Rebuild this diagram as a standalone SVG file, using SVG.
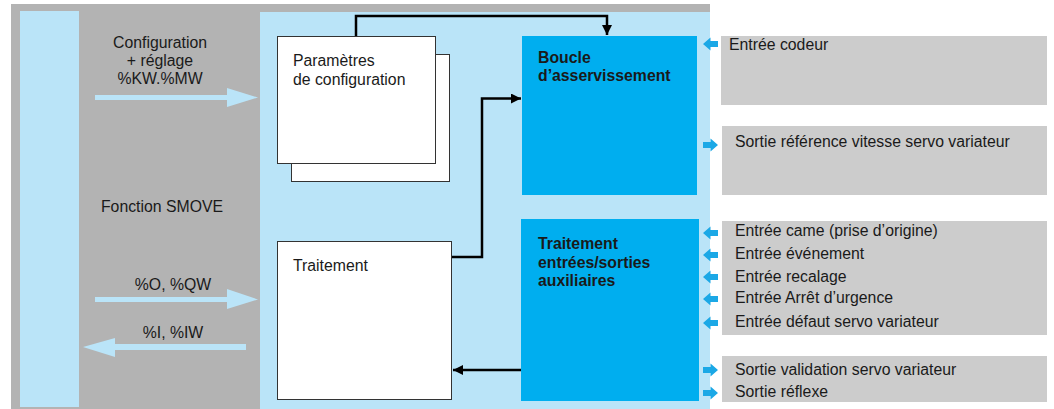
<svg xmlns="http://www.w3.org/2000/svg" width="1054" height="409" viewBox="0 0 1054 409">
<style>
text{font-family:"Liberation Sans",Arial,sans-serif;font-size:15.8px;fill:#1a1a1a}
.b{font-weight:bold}
.c{text-anchor:middle}
.lb{fill:#BAE4F8}
.wb{fill:#fff;stroke:#333;stroke-width:1}
.db{fill:#00AEEF}
.gb{fill:#CCCCCC}
.sa{fill:#1BA8E6}
.con{fill:none;stroke:#000;stroke-width:2.5}
</style>
<defs>
<marker id="ah" viewBox="0 0 10 10" refX="10" refY="5" markerWidth="4" markerHeight="4" orient="auto" markerUnits="strokeWidth">
<path d="M0,0 L10,5 L0,10 Z" fill="#000"/>
</marker>
<path id="inA" d="M0,0 L7.5,-6.5 L7.5,-3 L15,-3 L15,3 L7.5,3 L7.5,6.5 Z"/>
<path id="outA" d="M15,0 L7.5,-6.5 L7.5,-3 L0,-3 L0,3 L7.5,3 L7.5,6.5 Z"/>
</defs>
<rect x="11" y="4" width="699" height="405" fill="#B3B3B3"/>
<g id="plc"><rect class="lb" x="20" y="11" width="59" height="396"/></g>
<g id="panel"><rect class="lb" x="260" y="12" width="450" height="397"/></g>
<g id="left-labels">
<text class="c" x="160" y="48">Configuration</text>
<text class="c" x="160" y="66">+ réglage</text>
<text class="c" x="160" y="84">%KW.%MW</text>
<text class="c" x="162" y="212">Fonction SMOVE</text>
<text class="c" x="173" y="290">%O, %QW</text>
<text class="c" x="173" y="338">%I, %IW</text>
</g>
<g id="big-arrows" class="lb">
<path d="M95,95 L227,95 L227,88 L258,97.5 L227,107 L227,100 L95,100 Z"/>
<path d="M95,297 L227,297 L227,289 L258,299.5 L227,309 L227,302 L95,302 Z"/>
<path d="M246,344 L115,344 L115,338 L83,347 L115,357 L115,350 L246,350 Z"/>
</g>
<g id="params">
<rect class="wb" x="291.5" y="54.5" width="158" height="127"/>
<rect class="wb" x="277.5" y="36.5" width="158" height="127"/>
<text x="293" y="66">Paramètres</text>
<text x="293" y="85">de configuration</text>
</g>
<g id="traitement">
<rect class="wb" x="277.5" y="241.5" width="174" height="158"/>
<text x="293" y="271">Traitement</text>
</g>
<g id="boucle">
<rect class="db" x="522" y="36" width="175" height="159"/>
<text class="b" x="538" y="63">Boucle</text>
<text class="b" x="538" y="81">d’asservissement</text>
</g>
<g id="aux">
<rect class="db" x="521" y="219" width="178" height="182"/>
<text class="b" x="538" y="249">Traitement</text>
<text class="b" x="538" y="268">entrées/sorties</text>
<text class="b" x="538" y="286">auxiliaires</text>
</g>
<g id="connectors">
<path class="con" d="M356,36 L356,16 L607,16 L607,35" marker-end="url(#ah)"/>
<path class="con" d="M452,257 L482,257 L482,98.5 L521,98.5" marker-end="url(#ah)"/>
<path class="con" d="M521,370 L453,370" marker-end="url(#ah)"/>
</g>
<g id="io-boxes">
<rect class="gb" x="721" y="36" width="326" height="69"/>
<rect class="gb" x="722" y="126" width="325" height="69"/>
<rect class="gb" x="722" y="221" width="325" height="114"/>
<rect class="gb" x="722" y="356" width="325" height="46"/>
</g>
<g id="io-arrows" class="sa">
<use href="#inA" x="703" y="44"/>
<use href="#outA" x="703" y="145"/>
<use href="#inA" x="703" y="233"/>
<use href="#inA" x="703" y="255"/>
<use href="#inA" x="703" y="277"/>
<use href="#inA" x="703" y="299"/>
<use href="#inA" x="703" y="323"/>
<use href="#outA" x="703" y="370"/>
<use href="#outA" x="703" y="393"/>
</g>
<g id="io-labels">
<text x="729" y="50">Entrée codeur</text>
<text x="735" y="147">Sortie référence vitesse servo variateur</text>
<text x="735" y="236">Entrée came (prise d’origine)</text>
<text x="735" y="259">Entrée événement</text>
<text x="735" y="282">Entrée recalage</text>
<text x="735" y="303">Entrée Arrêt d’urgence</text>
<text x="735" y="327">Entrée défaut servo variateur</text>
<text x="735" y="375">Sortie validation servo variateur</text>
<text x="735" y="397">Sortie réflexe</text>
</g>
</svg>
